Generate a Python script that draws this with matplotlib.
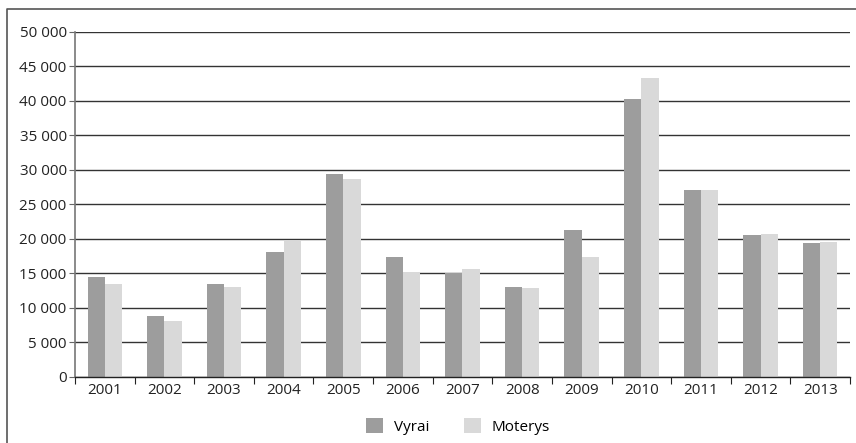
import matplotlib.pyplot as plt
import numpy as np
from matplotlib.lines import Line2D
from matplotlib.ticker import FuncFormatter

plt.rcParams['font.family'] = ['Open Sans', 'DejaVu Sans']

years = ['2001', '2002', '2003', '2004', '2005', '2006', '2007',
         '2008', '2009', '2010', '2011', '2012', '2013']
vyrai = [14500, 8800, 13500, 18100, 29400, 17400, 15100,
         13000, 21300, 40300, 27100, 20600, 19400]
moterys = [13500, 8100, 13000, 19700, 28700, 15200, 15650,
           12900, 17400, 43300, 27100, 20700, 19600]


def plotbars(fname='out.png'):
    fig = plt.figure(figsize=(8.56, 4.43), dpi=100)
    ax = fig.add_axes([0.0876, 0.149, 0.9054, 0.779])

    ind = np.arange(len(years))  # the x locations for the groups
    width = 0.29
    ax.bar(ind - width / 2, vyrai, width, color='#9d9d9d', label='Vyrai', zorder=3)
    ax.bar(ind + width / 2, moterys, width, color='#d9d9d9', label='Moterys', zorder=3)

    ax.set_xlim(-0.5, len(years) - 0.5)
    ax.set_ylim(0, 50000)
    ax.set_yticks(np.arange(0, 50001, 5000))
    ax.yaxis.set_major_formatter(FuncFormatter(lambda v, p: '{:,}'.format(int(v)).replace(',', ' ')))
    ax.yaxis.grid(True, color='#333333', linewidth=1.0, zorder=0)

    ax.set_xticks(ind)
    ax.set_xticklabels(years)
    ax.set_xticks(np.arange(-0.5, len(years), 1), minor=True)
    ax.tick_params(axis='x', which='major', length=0, pad=4, labelsize=11, labelcolor='#222222')
    ax.tick_params(axis='x', which='minor', length=5, width=0.8, color='#222222')
    ax.tick_params(axis='y', length=4, width=0.8, color='#666666', labelsize=11,
                   labelcolor='#222222', pad=2)

    for s in ['top', 'right']:
        ax.spines[s].set_visible(False)
    ax.spines['left'].set_color('#777777')
    ax.spines['left'].set_linewidth(1.2)
    ax.spines['bottom'].set_color('#222222')
    ax.spines['bottom'].set_linewidth(1.0)
    ax.spines['bottom'].set_zorder(4)

    fig.legend(loc='center', bbox_to_anchor=(0.535, 0.037), ncol=2, frameon=False,
               fontsize=11, handlelength=1.1, handleheight=1.1, columnspacing=2.3,
               handletextpad=0.7)

    # frame: only the left and top edges show, the rest is cut off
    fig.add_artist(Line2D([0.008, 0.008, 1.0], [0.0, 0.979, 0.979], transform=fig.transFigure,
                          color='#555555', linewidth=1.2))

    if fname != '':
        plt.savefig(fname)


if __name__ == '__main__':
    plotbars()
